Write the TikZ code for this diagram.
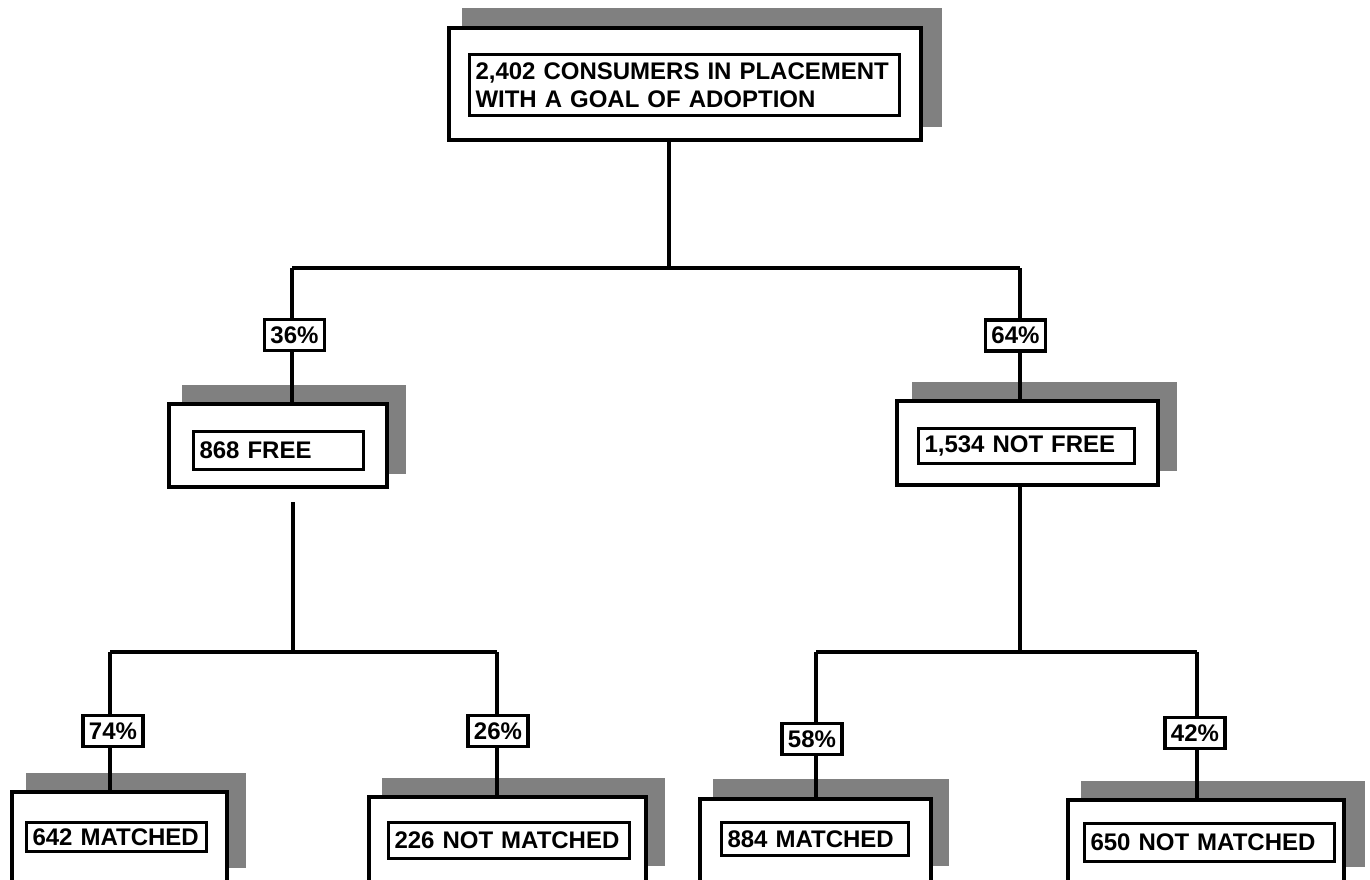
\documentclass[tikz,border=0pt]{standalone}
\usepackage{fontspec}
\setmainfont{Liberation Sans}
\definecolor{shadowgray}{HTML}{808080}
\tikzset{
  shadowrect/.style={fill=shadowgray, draw=none},
  outerbox/.style={draw=black, line width=3.6pt, fill=white, rectangle, inner sep=0pt},
  innerbox/.style={draw=black, line width=3pt, fill=white, rectangle, inner xsep=6pt, inner ysep=0pt,
    font=\bfseries\fontsize{24}{27.5}\selectfont, align=left},
  pctbox/.style={draw=black, line width=3.4pt, fill=white, rectangle, inner sep=0pt,
    minimum width=60pt, minimum height=31pt, font=\bfseries\fontsize{24}{27.5}\selectfont},
  conn/.style={draw=black, line width=3.4pt}
}
\begin{document}
\begin{tikzpicture}[x=1pt,y=-1pt]
\useasboundingbox (0,0) rectangle (1370,880);
\clip (0,0) rectangle (1370,880);

% shadows
\fill[shadowrect] (462,8) rectangle (942,127);
\fill[shadowrect] (182,385) rectangle (406,474);
\fill[shadowrect] (912,382) rectangle (1177,471);
\fill[shadowrect] (26,773) rectangle (246,868);
\fill[shadowrect] (382,778) rectangle (665,866);
\fill[shadowrect] (713,779) rectangle (949,866);
\fill[shadowrect] (1081,781) rectangle (1365,867);

% junction coordinates
\coordinate (j0) at (669,268);
\coordinate (jl) at (292,268);
\coordinate (jr) at (1020,268);
\coordinate (fs) at (293,502);
\coordinate (jf) at (293,652);
\coordinate (jfl) at (110,652);
\coordinate (jfr) at (497,652);
\coordinate (jn) at (1020,652);
\coordinate (jnl) at (816,652);
\coordinate (jnr) at (1197,652);

% horizontal connectors and free stub
\draw[conn] (jl) -- (jr);
\draw[conn] (fs) -- (jf);
\draw[conn] (jfl) -- (jfr);
\draw[conn] (jnl) -- (jnr);

% outer boxes
\node[outerbox, minimum width=472pt, minimum height=112pt] (top) at (685,84) {};
\node[outerbox, minimum width=218pt, minimum height=83pt] (free) at (278,445.5) {};
\node[outerbox, minimum width=261pt, minimum height=84pt] (nfree) at (1027.5,443) {};
\node[outerbox, minimum width=215pt, minimum height=99pt] (fm) at (119.5,841.5) {};
\node[outerbox, minimum width=277pt, minimum height=96pt] (fnm) at (507.5,845) {};
\node[outerbox, minimum width=231pt, minimum height=92pt] (nm) at (815.5,845) {};
\node[outerbox, minimum width=276pt, minimum height=91pt] (nnm) at (1206,845.5) {};

% connectors that touch boxes
\draw[conn] (top.south -| j0) -- (j0);
\draw[conn] (jl) -- (free.north -| jl);
\draw[conn] (jr) -- (nfree.north -| jr);
\draw[conn] (jfl) -- (fm.north -| jfl);
\draw[conn] (jfr) -- (fnm.north -| jfr);
\draw[conn] (nfree.south -| jn) -- (jn);
\draw[conn] (jnl) -- (nm.north -| jnl);
\draw[conn] (jnr) -- (nnm.north -| jnr);

% inner boxes with text
\node[innerbox, minimum width=430pt, minimum height=61pt, text width=418pt] (topin) at (684.5,85)
  {2,402 CONSUMERS IN PLACEMENT\\WITH A GOAL OF ADOPTION};
\node[innerbox, minimum width=170pt, minimum height=38pt, text width=158pt] (freein) at (278.5,450.5) {868 FREE};
\node[innerbox, minimum width=216pt, minimum height=35pt, text width=204pt] (nfreein) at (1026.5,446) {1,534 NOT FREE};
\node[innerbox, minimum width=180pt, minimum height=29pt, text width=168pt] (fmin) at (116.5,837) {642 MATCHED};
\node[innerbox, minimum width=241pt, minimum height=36pt, text width=229pt] (fnmin) at (509,840.5) {226 NOT MATCHED};
\node[innerbox, minimum width=187pt, minimum height=33pt, text width=175pt] (nmin) at (815,839) {884 MATCHED};
\node[innerbox, minimum width=250pt, minimum height=38pt, text width=238pt] (nnmin) at (1209.5,842.5) {650 NOT MATCHED};

% percentage labels
\node[pctbox] (p36) at (294.5,335) {36\%};
\node[pctbox] (p64) at (1015.5,335.5) {64\%};
\node[pctbox] (p74) at (113,731) {74\%};
\node[pctbox] (p26) at (498,731) {26\%};
\node[pctbox] (p58) at (812,739) {58\%};
\node[pctbox] (p42) at (1195,733) {42\%};
\end{tikzpicture}
\end{document}
